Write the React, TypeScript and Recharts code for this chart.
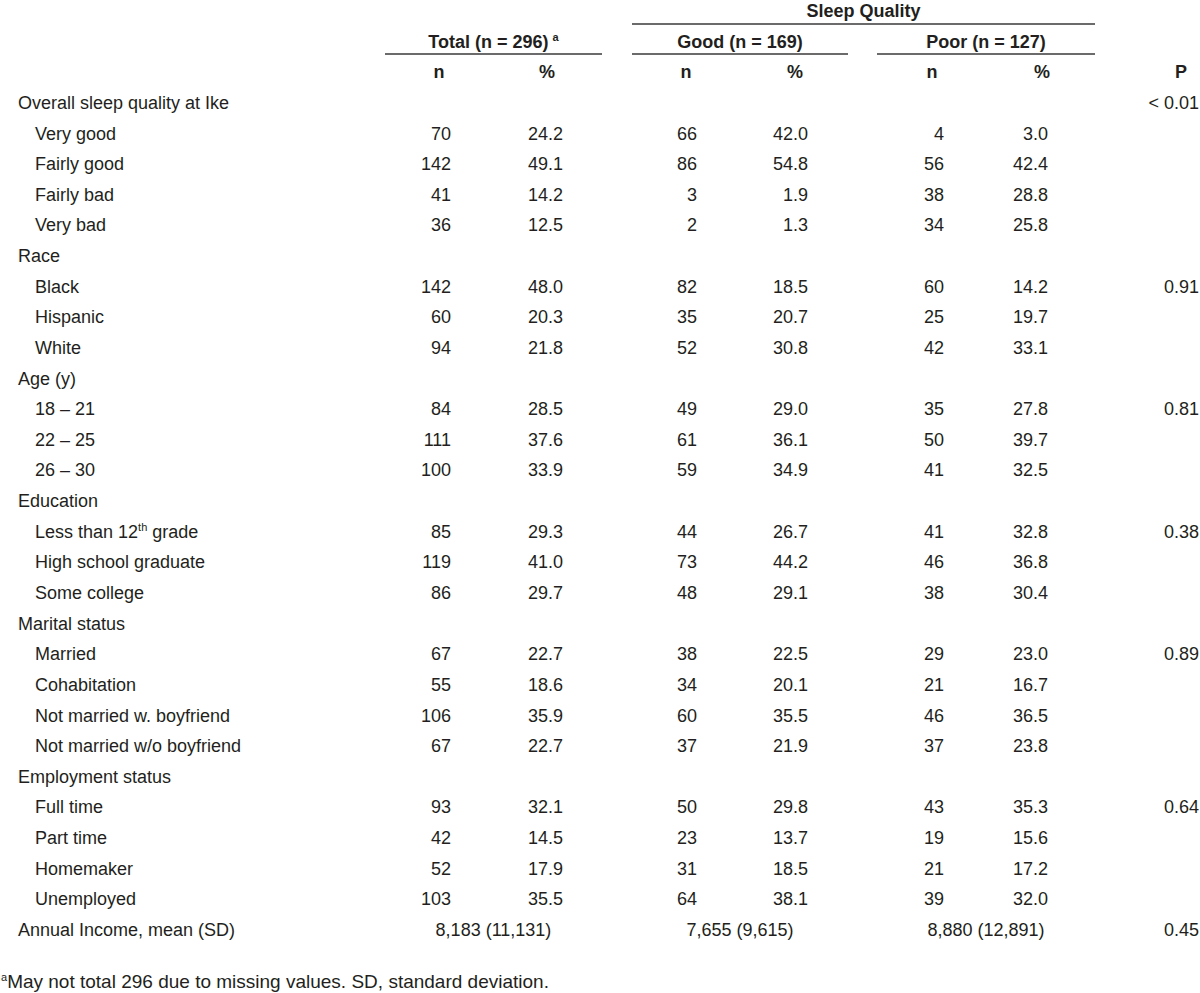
import React from 'react';
import { ComposedChart, Scatter, XAxis, YAxis, ReferenceLine } from 'recharts';

// ---------- data ----------
const SPANNER_TITLE = 'Sleep Quality';
const GROUP_TITLES = ['Total (n = 296)^a^', 'Good (n = 169)', 'Poor (n = 127)'];
const SUB_HEADERS = ['n', '%'];
const P_HEADER = 'P';

const ROW_LABELS = [
  'Overall sleep quality at Ike', 'Very good', 'Fairly good', 'Fairly bad', 'Very bad',
  'Race', 'Black', 'Hispanic', 'White',
  'Age (y)', '18 – 21', '22 – 25', '26 – 30',
  'Education', 'Less than 12^th^ grade', 'High school graduate', 'Some college',
  'Marital status', 'Married', 'Cohabitation', 'Not married w. boyfriend', 'Not married w/o boyfriend',
  'Employment status', 'Full time', 'Part time', 'Homemaker', 'Unemployed',
  'Annual Income, mean (SD)',
];
const ROW_IS_SUB = [
  false, true, true, true, true,
  false, true, true, true,
  false, true, true, true,
  false, true, true, true,
  false, true, true, true, true,
  false, true, true, true, true,
  false,
];
const TOTAL_N = [null, 70, 142, 41, 36, null, 142, 60, 94, null, 84, 111, 100, null, 85, 119, 86, null, 67, 55, 106, 67, null, 93, 42, 52, 103, null];
const TOTAL_PCT = [null, 24.2, 49.1, 14.2, 12.5, null, 48.0, 20.3, 21.8, null, 28.5, 37.6, 33.9, null, 29.3, 41.0, 29.7, null, 22.7, 18.6, 35.9, 22.7, null, 32.1, 14.5, 17.9, 35.5, null];
const GOOD_N = [null, 66, 86, 3, 2, null, 82, 35, 52, null, 49, 61, 59, null, 44, 73, 48, null, 38, 34, 60, 37, null, 50, 23, 31, 64, null];
const GOOD_PCT = [null, 42.0, 54.8, 1.9, 1.3, null, 18.5, 20.7, 30.8, null, 29.0, 36.1, 34.9, null, 26.7, 44.2, 29.1, null, 22.5, 20.1, 35.5, 21.9, null, 29.8, 13.7, 18.5, 38.1, null];
const POOR_N = [null, 4, 56, 38, 34, null, 60, 25, 42, null, 35, 50, 41, null, 41, 46, 38, null, 29, 21, 46, 37, null, 43, 19, 21, 39, null];
const POOR_PCT = [null, 3.0, 42.4, 28.8, 25.8, null, 14.2, 19.7, 33.1, null, 27.8, 39.7, 32.5, null, 32.8, 36.8, 30.4, null, 23.0, 16.7, 36.5, 23.8, null, 35.3, 15.6, 17.2, 32.0, null];
const P_VALUES = ['< 0.01', null, null, null, null, null, '0.91', null, null, null, '0.81', null, null, null, '0.38', null, null, null, '0.89', null, null, null, null, '0.64', null, null, null, '0.45'];
const INCOME_SUMMARY = ['8,183 (11,131)', '7,655 (9,615)', '8,880 (12,891)'];
const INCOME_ROW = 27;
const FOOTNOTE = '^a^May not total 296 due to missing values. SD, standard deviation.';

// ---------- layout / style ----------
const WIDTH = 1200;
const HEIGHT = 993;
const TOP = 17;
const PITCH = 30.633;
const FIRST_DATA_ROW = 3;
const FOOTNOTE_ROW = 31.7;
const INK = '#231f20';
const FONT = '"Liberation Sans", Arial, Helvetica, sans-serif';
const FONT_SIZE = 18;
const FOOTNOTE_SIZE = 19;

const LAYOUT = {
  labelX: 18,
  subLabelX: 35,
  footnoteX: 1,
  groups: [
    { left: 385, right: 602, nRight: 451, pctRight: 563, nCenter: 439, pctCenter: 547 },
    { left: 632, right: 848, nRight: 697, pctRight: 808, nCenter: 686, pctCenter: 795 },
    { left: 877, right: 1095, nRight: 944, pctRight: 1048, nCenter: 932, pctCenter: 1042 },
  ],
  spanner: { left: 632, right: 1095 },
  pRight: 1199,
  pCenter: 1181,
  spannerLineRow: 0.2285,
  groupLineRow: 1.208,
};

const fmtPct = (v: number) => v.toFixed(1);

function renderLabel(label: string) {
  const parts = String(label).split('^');
  if (parts.length === 1) return label;
  const out: any[] = [];
  parts.forEach((p, i) => {
    if (p === '') return;
    if (i % 2 === 1) {
      out.push(
        <tspan key={i} fontSize={11} dy={-7} dx={i === parts.length - 2 && parts[i + 1] === '' ? 4 : 0}>
          {p}
        </tspan>
      );
    } else if (i > 0) {
      out.push(
        <tspan key={i} dy={7}>
          {p}
        </tspan>
      );
    } else {
      out.push(<tspan key={i}>{p}</tspan>);
    }
  });
  return out;
}

function cellShape(anchor: string, weight: number, size: number = FONT_SIZE) {
  return (props: any) => {
    const { cx, cy, payload } = props;
    if (cx == null || cy == null || payload == null) return <g />;
    return (
      <text
        x={cx}
        y={cy}
        textAnchor={anchor}
        fontWeight={weight}
        fontSize={size}
        fill={INK}
        fontFamily={FONT}
      >
        {renderLabel(payload.label)}
      </text>
    );
  };
}

const colPoints = (values: (number | null)[], x: number, fmt: (v: number) => string) =>
  values
    .map((v, i) => (v == null ? null : { x, y: i + FIRST_DATA_ROW, label: fmt(v) }))
    .filter(Boolean) as any[];

export default function App() {
  const groupLabels = ROW_LABELS.map((label, i) => ({ label, i }))
    .filter((d) => !ROW_IS_SUB[d.i])
    .map((d) => ({ x: LAYOUT.labelX, y: d.i + FIRST_DATA_ROW, label: d.label }));
  const subLabels = ROW_LABELS.map((label, i) => ({ label, i }))
    .filter((d) => ROW_IS_SUB[d.i])
    .map((d) => ({ x: LAYOUT.subLabelX, y: d.i + FIRST_DATA_ROW, label: d.label }));

  const [gT, gG, gP] = LAYOUT.groups;
  const nCols = [
    colPoints(TOTAL_N, gT.nRight, (v) => String(v)),
    colPoints(GOOD_N, gG.nRight, (v) => String(v)),
    colPoints(POOR_N, gP.nRight, (v) => String(v)),
  ];
  const pctCols = [
    colPoints(TOTAL_PCT, gT.pctRight, fmtPct),
    colPoints(GOOD_PCT, gG.pctRight, fmtPct),
    colPoints(POOR_PCT, gP.pctRight, fmtPct),
  ];
  const pPoints = P_VALUES.map((v, i) => (v == null ? null : { x: LAYOUT.pRight, y: i + FIRST_DATA_ROW, label: v })).filter(Boolean) as any[];
  const incomePoints = INCOME_SUMMARY.map((label, g) => ({
    x: (LAYOUT.groups[g].left + LAYOUT.groups[g].right) / 2,
    y: INCOME_ROW + FIRST_DATA_ROW,
    label,
  }));

  const spannerPoint = [{ x: (LAYOUT.spanner.left + LAYOUT.spanner.right) / 2, y: 0, label: SPANNER_TITLE }];
  const groupTitlePoints = GROUP_TITLES.map((label, g) => ({
    x: (LAYOUT.groups[g].left + LAYOUT.groups[g].right) / 2,
    y: 1,
    label,
  }));
  const subHeaderPoints = [
    ...LAYOUT.groups.map((g) => ({ x: g.nCenter, y: 2, label: SUB_HEADERS[0] })),
    ...LAYOUT.groups.map((g) => ({ x: g.pctCenter, y: 2, label: SUB_HEADERS[1] })),
    { x: LAYOUT.pCenter, y: 2, label: P_HEADER },
  ];
  const footnotePoint = [{ x: LAYOUT.footnoteX, y: FOOTNOTE_ROW, label: FOOTNOTE }];

  // y domain covers the whole canvas, so nothing gets clipped
  const yDomain = [-TOP / PITCH, (HEIGHT - TOP) / PITCH];
  const lineStroke = '#3a3a3a';

  return (
    <div style={{ position: 'absolute', left: 0, top: 0, width: WIDTH, height: HEIGHT, background: '#fff' }}>
      <ComposedChart width={WIDTH} height={HEIGHT} margin={{ top: 0, right: 0, bottom: 0, left: 0 }}>
        <XAxis type="number" dataKey="x" domain={[0, WIDTH]} allowDataOverflow hide />
        <YAxis type="number" dataKey="y" domain={yDomain} allowDataOverflow reversed hide />

        <ReferenceLine
          segment={[{ x: LAYOUT.spanner.left, y: LAYOUT.spannerLineRow }, { x: LAYOUT.spanner.right, y: LAYOUT.spannerLineRow }]}
          stroke={lineStroke}
          strokeWidth={1.5}
        />
        {LAYOUT.groups.map((g, k) => (
          <ReferenceLine
            key={k}
            segment={[{ x: g.left, y: LAYOUT.groupLineRow }, { x: g.right, y: LAYOUT.groupLineRow }]}
            stroke={lineStroke}
            strokeWidth={1.5}
          />
        ))}

        <Scatter data={spannerPoint} shape={cellShape('middle', 700)} isAnimationActive={false} />
        <Scatter data={groupTitlePoints} shape={cellShape('middle', 700)} isAnimationActive={false} />
        <Scatter data={subHeaderPoints} shape={cellShape('middle', 700)} isAnimationActive={false} />

        <Scatter data={groupLabels} shape={cellShape('start', 400)} isAnimationActive={false} />
        <Scatter data={subLabels} shape={cellShape('start', 400)} isAnimationActive={false} />
        {nCols.map((d, k) => (
          <Scatter key={'n' + k} data={d} shape={cellShape('end', 400)} isAnimationActive={false} />
        ))}
        {pctCols.map((d, k) => (
          <Scatter key={'p' + k} data={d} shape={cellShape('end', 400)} isAnimationActive={false} />
        ))}
        <Scatter data={pPoints} shape={cellShape('end', 400)} isAnimationActive={false} />
        <Scatter data={incomePoints} shape={cellShape('middle', 400)} isAnimationActive={false} />
        <Scatter data={footnotePoint} shape={cellShape('start', 400, FOOTNOTE_SIZE)} isAnimationActive={false} />
      </ComposedChart>
    </div>
  );
}
